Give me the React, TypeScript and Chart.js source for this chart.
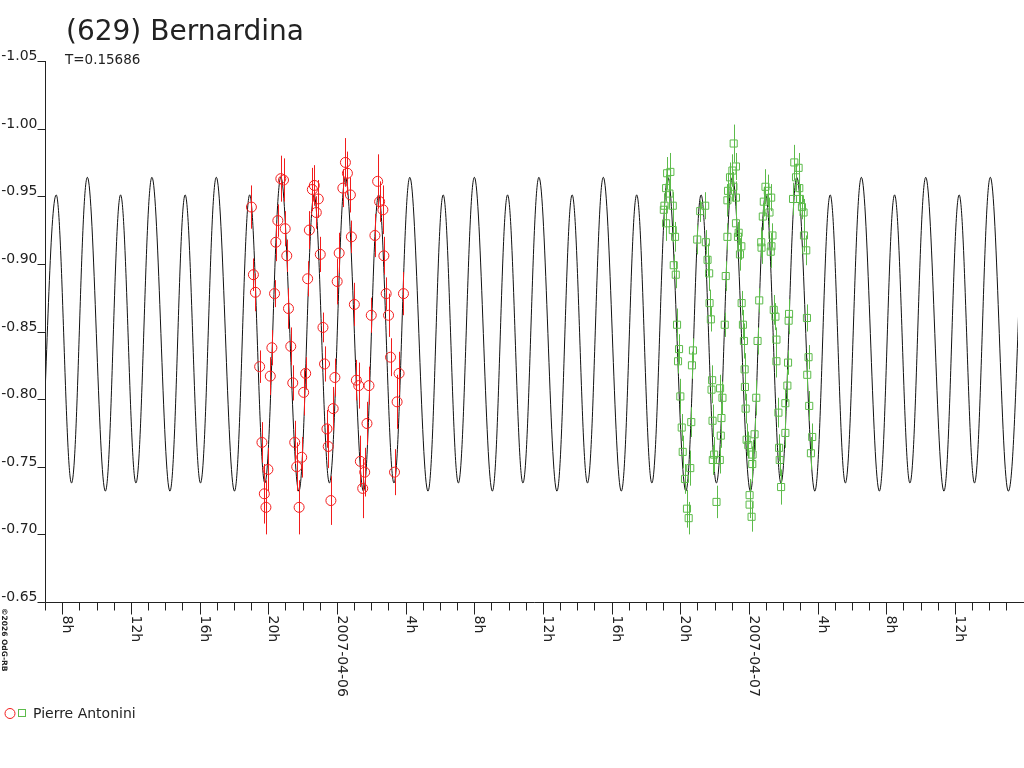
import { Chart, registerables } from 'chart.js'
import { useEffect, useRef } from 'react'

Chart.register(...registerables)

const TITLE = '(629) Bernardina'
const SUBTITLE = 'T=0.15686'
const OBSERVER = 'Pierre Antonini'
const CREDIT = '©2026 OdG-RB'

// time axis: hours counted from 2007-04-05 00:00
const X_MIN = 7
const X_MAX = 63.67
const Y_MIN = -1.05
const Y_MAX = -0.65
const Y_TICKS = [-1.05, -1.0, -0.95, -0.9, -0.85, -0.8, -0.75, -0.7, -0.65]
const X_MAJOR = [8, 12, 16, 20, 24, 28, 32, 36, 40, 44, 48, 52, 56, 60]
const X_LABELS = ['8h', '12h', '16h', '20h', '2007-04-06', '4h', '8h', '12h', '16h', '20h', '2007-04-07', '4h', '8h', '12h']

// model light curve, read as its turning points
const lowPeakT = [7.65, 11.4, 15.16, 18.92, 22.67, 26.43, 30.19, 33.94, 37.7, 41.46, 45.21, 48.97, 52.73, 56.48, 60.24, 63.99]
const shallowMinT = [8.55, 12.3, 16.06, 19.81, 23.57, 27.33, 31.08, 34.84, 38.6, 42.35, 46.11, 49.87, 53.62, 57.38, 61.14]
const highPeakT = [9.47, 13.23, 16.98, 20.74, 24.5, 28.25, 32.01, 35.77, 39.52, 43.28, 47.04, 50.79, 54.55, 58.3, 62.06]
const deepMinT = [6.76, 10.51, 14.27, 18.03, 21.78, 25.54, 29.3, 33.05, 36.81, 40.56, 44.32, 48.08, 51.83, 55.59, 59.35, 63.1]
const LOW_PEAK = -0.951
const SHALLOW_MIN = -0.738
const HIGH_PEAK = -0.964
const DEEP_MIN = -0.732

// night 2007-04-05/06 (red circles)
const redT = [19.022, 19.138, 19.254, 19.502, 19.635, 19.774, 19.867, 19.983, 20.122, 20.214, 20.37, 20.446, 20.561, 20.735, 20.891, 20.99, 21.082, 21.181, 21.314, 21.43, 21.545, 21.661, 21.8, 21.951, 22.066, 22.182, 22.298, 22.396, 22.57, 22.685, 22.801, 22.917, 23.033, 23.189, 23.282, 23.421, 23.496, 23.652, 23.785, 23.884, 24.017, 24.133, 24.347, 24.497, 24.613, 24.787, 24.845, 25.018, 25.134, 25.273, 25.366, 25.504, 25.62, 25.753, 25.869, 26.002, 26.216, 26.373, 26.489, 26.68, 26.737, 26.87, 27.009, 27.125, 27.357, 27.507, 27.623, 27.878]
const redMag = [-0.942, -0.892, -0.879, -0.824, -0.768, -0.73, -0.72, -0.748, -0.817, -0.838, -0.878, -0.916, -0.932, -0.963, -0.962, -0.926, -0.906, -0.867, -0.839, -0.812, -0.768, -0.75, -0.72, -0.757, -0.805, -0.819, -0.889, -0.925, -0.955, -0.958, -0.938, -0.948, -0.907, -0.853, -0.826, -0.778, -0.765, -0.725, -0.793, -0.816, -0.887, -0.908, -0.956, -0.975, -0.967, -0.951, -0.92, -0.87, -0.814, -0.81, -0.754, -0.734, -0.746, -0.782, -0.81, -0.862, -0.921, -0.961, -0.946, -0.94, -0.906, -0.878, -0.862, -0.831, -0.746, -0.798, -0.819, -0.878]
const redErr = [0.016, 0.012, 0.014, 0.012, 0.015, 0.022, 0.02, 0.016, 0.014, 0.013, 0.01, 0.014, 0.012, 0.017, 0.016, 0.013, 0.012, 0.015, 0.014, 0.013, 0.016, 0.018, 0.02, 0.015, 0.017, 0.012, 0.013, 0.014, 0.016, 0.015, 0.012, 0.014, 0.013, 0.011, 0.013, 0.014, 0.016, 0.018, 0.016, 0.014, 0.017, 0.015, 0.014, 0.018, 0.016, 0.013, 0.012, 0.016, 0.015, 0.017, 0.019, 0.022, 0.018, 0.016, 0.014, 0.013, 0.016, 0.02, 0.015, 0.018, 0.014, 0.012, 0.016, 0.014, 0.017, 0.02, 0.016, 0.016]

// night 2007-04-06/07 (green squares)
const greenT = [43.233, 43.424, 43.175, 43.366, 43.077, 43.042, 43.563, 43.175, 43.563, 43.696, 43.621, 43.737, 43.812, 43.928, 43.87, 44.003, 44.084, 44.142, 44.275, 44.391, 44.489, 44.582, 44.64, 44.68, 44.738, 44.987, 45.161, 45.45, 45.491, 45.589, 45.682, 45.705, 45.78, 45.855, 45.821, 45.879, 45.971, 45.896, 46.11, 46.301, 46.359, 46.399, 46.457, 46.318, 46.59, 46.648, 46.746, 46.746, 46.781, 46.897, 47.036, 47.244, 47.111, 47.094, 47.244, 47.244, 47.401, 47.36, 47.557, 47.476, 47.574, 47.649, 47.707, 47.748, 47.765, 47.806, 47.864, 47.962, 48.211, 48.194, 48.037, 48.037, 48.153, 48.327, 48.425, 48.501, 48.599, 48.715, 48.732, 48.807, 48.865, 48.963, 49.097, 49.293, 49.195, 49.369, 49.311, 49.27, 49.444, 49.542, 49.6, 49.6, 49.716, 49.756, 49.791, 49.872, 50.121, 50.121, 50.237, 50.277, 50.335, 50.312, 50.567, 50.642, 50.891, 50.741, 50.932, 50.972, 51.088, 51.18, 51.204, 51.337, 51.377, 51.47, 51.395, 51.51, 51.684, 51.609]
const greenMag = [-0.967, -0.968, -0.956, -0.952, -0.943, -0.94, -0.943, -0.93, -0.925, -0.92, -0.899, -0.892, -0.855, -0.837, -0.828, -0.802, -0.779, -0.761, -0.741, -0.719, -0.712, -0.749, -0.783, -0.825, -0.836, -0.918, -0.939, -0.943, -0.916, -0.903, -0.893, -0.871, -0.859, -0.814, -0.807, -0.784, -0.759, -0.755, -0.724, -0.755, -0.773, -0.786, -0.801, -0.808, -0.855, -0.891, -0.92, -0.947, -0.954, -0.964, -0.969, -0.972, -0.989, -0.957, -0.949, -0.93, -0.923, -0.92, -0.913, -0.907, -0.871, -0.855, -0.843, -0.822, -0.809, -0.793, -0.77, -0.766, -0.759, -0.752, -0.729, -0.722, -0.713, -0.774, -0.801, -0.843, -0.873, -0.916, -0.912, -0.935, -0.946, -0.957, -0.954, -0.949, -0.938, -0.921, -0.913, -0.909, -0.866, -0.861, -0.844, -0.828, -0.79, -0.764, -0.755, -0.735, -0.775, -0.797, -0.81, -0.827, -0.863, -0.858, -0.948, -0.975, -0.971, -0.964, -0.956, -0.948, -0.942, -0.938, -0.921, -0.91, -0.86, -0.831, -0.818, -0.795, -0.772, -0.76]
const greenErr = [0.012, 0.014, 0.01, 0.011, 0.009, 0.012, 0.01, 0.013, 0.009, 0.011, 0.008, 0.01, 0.012, 0.011, 0.009, 0.013, 0.01, 0.012, 0.011, 0.014, 0.012, 0.013, 0.011, 0.01, 0.009, 0.011, 0.008, 0.01, 0.009, 0.012, 0.013, 0.01, 0.009, 0.011, 0.01, 0.012, 0.013, 0.011, 0.012, 0.01, 0.009, 0.011, 0.012, 0.01, 0.009, 0.011, 0.01, 0.012, 0.013, 0.011, 0.012, 0.01, 0.014, 0.011, 0.012, 0.01, 0.009, 0.011, 0.01, 0.012, 0.009, 0.011, 0.013, 0.012, 0.01, 0.011, 0.012, 0.01, 0.011, 0.013, 0.012, 0.01, 0.011, 0.012, 0.013, 0.01, 0.009, 0.011, 0.012, 0.01, 0.011, 0.013, 0.012, 0.01, 0.011, 0.009, 0.01, 0.012, 0.011, 0.01, 0.009, 0.012, 0.011, 0.01, 0.012, 0.013, 0.011, 0.01, 0.012, 0.009, 0.011, 0.01, 0.012, 0.013, 0.011, 0.01, 0.012, 0.011, 0.009, 0.01, 0.012, 0.011, 0.01, 0.009, 0.012, 0.011, 0.01, 0.012]

const RED = '#f21c1c'
const GREEN = '#5cbb4a'
const INK = '#222222'
const FONT = '"DejaVu Sans", sans-serif'

const modelPoints = [
  ...lowPeakT.map(t => ({ x: t, y: LOW_PEAK })),
  ...shallowMinT.map(t => ({ x: t, y: SHALLOW_MIN })),
  ...highPeakT.map(t => ({ x: t, y: HIGH_PEAK })),
  ...deepMinT.map(t => ({ x: t, y: DEEP_MIN })),
].sort((a, b) => a.x - b.x)

const errorBars = {
  id: 'errorBars',
  afterDatasetsDraw(chart: Chart) {
    const { ctx } = chart
    const x = chart.scales.x
    const y = chart.scales.y
    const bars = (ts: number[], ms: number[], es: number[], color: string) => {
      ctx.strokeStyle = color
      ctx.beginPath()
      ts.forEach((t, i) => {
        const px = Math.round(x.getPixelForValue(t)) + 0.5
        ctx.moveTo(px, y.getPixelForValue(ms[i] - es[i]))
        ctx.lineTo(px, y.getPixelForValue(ms[i] + es[i]))
      })
      ctx.stroke()
    }
    ctx.save()
    ctx.lineWidth = 1
    bars(redT, redMag, redErr, RED)
    bars(greenT, greenMag, greenErr, GREEN)
    ctx.restore()
  },
}

const frame = {
  id: 'frame',
  afterDraw(chart: Chart) {
    const { ctx, chartArea } = chart
    const x = chart.scales.x
    const y = chart.scales.y
    const left = Math.round(chartArea.left) + 0.5
    const bottom = Math.round(chartArea.bottom) + 0.5
    ctx.save()
    ctx.strokeStyle = INK
    ctx.fillStyle = INK
    ctx.lineWidth = 1

    // axes
    ctx.beginPath()
    ctx.moveTo(left, Math.round(chartArea.top))
    ctx.lineTo(left, bottom)
    ctx.lineTo(chart.width, bottom)
    ctx.stroke()

    // y ticks and labels
    ctx.font = `14px ${FONT}`
    ctx.textAlign = 'right'
    ctx.textBaseline = 'alphabetic'
    Y_TICKS.forEach(v => {
      const py = Math.round(y.getPixelForValue(v)) + 0.5
      ctx.beginPath()
      ctx.moveTo(left - 8, py)
      ctx.lineTo(left, py)
      ctx.stroke()
      ctx.fillText(v.toFixed(2), left - 8, py - 2)
    })

    // x ticks: every hour, longer on labelled hours
    for (let h = Math.ceil(X_MIN); h <= X_MAX; h++) {
      const px = Math.round(x.getPixelForValue(h)) + 0.5
      const major = X_MAJOR.includes(h)
      ctx.beginPath()
      ctx.moveTo(px, bottom)
      ctx.lineTo(px, bottom + (major ? 12 : 8))
      ctx.stroke()
    }
    ctx.textAlign = 'left'
    X_MAJOR.forEach((h, i) => {
      const px = Math.round(x.getPixelForValue(h))
      ctx.save()
      ctx.translate(px + 1, bottom + 13)
      ctx.rotate(Math.PI / 2)
      ctx.fillText(X_LABELS[i], 0, 0)
      ctx.restore()
    })

    // title block
    ctx.font = `28px ${FONT}`
    ctx.fillText(TITLE, 66, 40)
    ctx.font = `13.5px ${FONT}`
    ctx.fillText(SUBTITLE, 65, 64)

    // legend
    ctx.strokeStyle = RED
    ctx.beginPath()
    ctx.arc(10, 713.5, 5, 0, Math.PI * 2)
    ctx.stroke()
    ctx.strokeStyle = GREEN
    ctx.strokeRect(18.5, 709.5, 7, 7)
    ctx.fillStyle = INK
    ctx.font = `14px ${FONT}`
    ctx.fillText(OBSERVER, 33, 718)

    // credit
    ctx.font = `bold 7.5px ${FONT}`
    ctx.save()
    ctx.translate(2, 608)
    ctx.rotate(Math.PI / 2)
    ctx.fillText(CREDIT, 0, 0)
    ctx.restore()

    ctx.restore()
  },
}

export default function App() {
  const canvasRef = useRef<HTMLCanvasElement>(null)
  const chartRef = useRef<Chart | null>(null)

  useEffect(() => {
    if (!canvasRef.current) return
    if (chartRef.current) chartRef.current.destroy()

    chartRef.current = new Chart(canvasRef.current, {
      type: 'scatter',
      data: {
        datasets: [
          {
            label: 'model',
            data: modelPoints,
            showLine: true,
            borderColor: '#111111',
            borderWidth: 1,
            pointRadius: 0,
            tension: 0.37,
            order: 3,
          },
          {
            label: OBSERVER,
            data: redT.map((t, i) => ({ x: t, y: redMag[i] })),
            pointStyle: 'circle',
            pointRadius: 5,
            borderColor: RED,
            backgroundColor: 'rgba(0,0,0,0)',
            borderWidth: 1,
            order: 1,
          },
          {
            label: OBSERVER,
            data: greenT.map((t, i) => ({ x: t, y: greenMag[i] })),
            pointStyle: 'rect',
            pointRadius: 5,
            borderColor: GREEN,
            backgroundColor: 'rgba(0,0,0,0)',
            borderWidth: 1,
            order: 2,
          },
        ],
      },
      options: {
        animation: false,
        responsive: false,
        layout: { padding: { left: 45, top: 61, right: 0, bottom: 166 } },
        plugins: { legend: { display: false }, tooltip: { enabled: false } },
        scales: {
          x: { type: 'linear', display: false, min: X_MIN, max: X_MAX },
          y: { type: 'linear', display: false, reverse: true, min: Y_MIN, max: Y_MAX },
        },
      },
      plugins: [errorBars, frame],
    })
    return () => { if (chartRef.current) chartRef.current.destroy() }
  }, [])

  return (
    <div style={{ position: 'absolute', left: 0, top: 0, width: 1024, height: 768, background: '#fff' }}>
      <canvas ref={canvasRef} width={1024} height={768} style={{ display: 'block' }} />
    </div>
  )
}
